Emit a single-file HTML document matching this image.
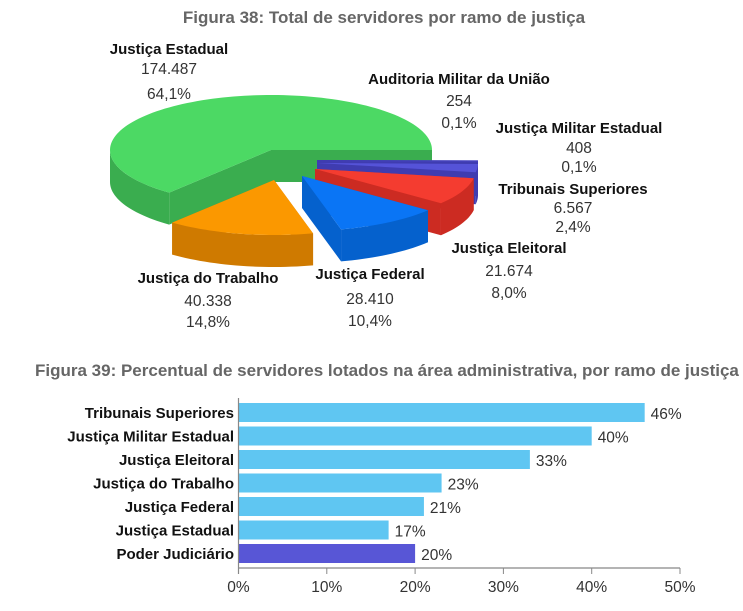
<!DOCTYPE html>
<html><head><meta charset="utf-8"><style>
body{margin:0;background:#fff;width:743px;height:611px;overflow:hidden;font-family:"Liberation Sans",sans-serif}
svg{display:block}
.t{font-weight:bold;fill:#666;font-size:17px}
.b{font-weight:bold;fill:#111;font-size:15px}
.v{fill:#333;font-size:15.5px}
</style></head><body>
<svg id="c" width="743" height="611">
<text class="t" x="384" y="23" text-anchor="middle">Figura 38: Total de servidores por ramo de justiça</text>
<g id="pie"></g>
<g id="pielabels"></g>
<text class="t" x="35" y="376">Figura 39: Percentual de servidores lotados na área administrativa, por ramo de justiça</text>
<g id="bars"></g>
</svg>
<script>
const sliceNames=["Justiça Estadual","Justiça do Trabalho","Justiça Federal","Justiça Eleitoral","Tribunais Superiores","Justiça Militar Estadual","Auditoria Militar da União"];
const sliceCounts=["174.487","40.338","28.410","21.674","6.567","408","254"];
const slicePcts=[64.1,14.8,10.4,8.0,2.4,0.1,0.1];
const barCats=["Tribunais Superiores","Justiça Militar Estadual","Justiça Eleitoral","Justiça do Trabalho","Justiça Federal","Justiça Estadual","Poder Judiciário"];
const barVals=[46,40,33,23,21,17,20];
const xTicks=[0,10,20,30,40,50];

const NS="http://www.w3.org/2000/svg";
function mk(tag,attrs,parent){const e=document.createElementNS(NS,tag);for(const k in attrs)e.setAttribute(k,attrs[k]);parent.appendChild(e);return e;}
const fmt=v=>v.toFixed(1).replace('.',',')+'%';

const pie=document.getElementById('pie');
const cx=271,cy=150,rx=161,ry=55,depth=32;
const topCols=["#4cd964","#fb9800","#0a75f5","#f43c30","#5553d8","#5553d8","#5553d8"];
const sideCols=["#3aad4f","#cf7a00","#0561cd","#cc2b22","#3f3cb0","#3f3cb0","#3f3cb0"];
const offs=[[0,0],[3,30],[31,26],[44,19],[46,13],[46,11],[46,10]];
const ranges=[];let a=360;
for(let i=0;i<slicePcts.length;i++){const s=slicePcts[i]*3.6;ranges.push([a-s,a]);a-=s;}
const P=(t,o,dy)=>[cx+o[0]+rx*Math.cos(t*Math.PI/180),cy+o[1]+(dy||0)+ry*Math.sin(t*Math.PI/180)];
function arcPts(t1,t2,o,dy){const pts=[];const n=Math.max(2,Math.ceil((t2-t1)/2));for(let k=0;k<=n;k++)pts.push(P(t1+(t2-t1)*k/n,o,dy));return pts;}
const order=[0,6,5,4,3,2,1];
for(const i of order){
  const [t1,t2]=ranges[i],o=offs[i];
  const g=mk('g',{},pie);
  
  
  const c=[cx+o[0],cy+o[1]];
  for(const t of [t1,t2]){const p=P(t,o);
    mk('polygon',{points:[c,p,[p[0],p[1]+depth],[c[0],c[1]+depth]].map(q=>q.join(',')).join(' '),fill:sideCols[i]},g);}
  const segs=[[t1,t2],[t1-360,t2-360]];
  for(const [s,e] of segs){const lo=Math.max(s,0),hi=Math.min(e,180);if(hi>lo){
    const top=arcPts(lo,hi,o,0),bot=arcPts(lo,hi,o,depth).reverse();
    mk('polygon',{points:top.concat(bot).map(q=>q.join(',')).join(' '),fill:sideCols[i]},g);}}
  const pts=[c].concat(arcPts(t1,t2,o,0));
  mk('polygon',{points:pts.map(q=>q.join(',')).join(' '),fill:topCols[i]},g);
}
const pl=document.getElementById('pielabels');
const lpos=[[169,54,74,99],[208,283,306,327],[370,279,304,326],[509,253,276,298],[573,194,213,232],[579,133,153,172],[459,84,106,128]];
for(let i=0;i<sliceNames.length;i++){const [x,y1,y2,y3]=lpos[i];
  const n=mk('text',{x:x,y:y1,'text-anchor':'middle',class:'b'},pl);n.textContent=sliceNames[i];
  
  const c=mk('text',{x:x,y:y2,'text-anchor':'middle',class:'v'},pl);c.textContent=sliceCounts[i];
  
  const p=mk('text',{x:x,y:y3,'text-anchor':'middle',class:'v'},pl);p.textContent=fmt(slicePcts[i]);
  
}
const bg=document.getElementById('bars');
const x0=238.5,x1=680,xmax=50,y0=403,pitch=23.5,bh=19,axisY=568;
const X=v=>x0+(x1-x0)*v/xmax;
for(let i=0;i<barCats.length;i++){const y=y0+i*pitch;
  const r=mk('rect',{x:x0,y:y,width:X(barVals[i])-x0,height:bh,fill:i==barCats.length-1?'#5856d6':'#5fc6f2'},bg);
  
  const l=mk('text',{x:234,y:y+15,'text-anchor':'end',class:'b'},bg);l.textContent=barCats[i];
  
  const v=mk('text',{x:X(barVals[i])+6,y:y+16,class:'v'},bg);v.textContent=barVals[i]+'%';
  
}
const ax=mk('line',{x1:x0,y1:axisY,x2:x1,y2:axisY,stroke:'#888','stroke-width':1.2},bg);

const ay=mk('line',{x1:x0,y1:398,x2:x0,y2:axisY+6,stroke:'#888','stroke-width':1.2},bg);

for(const t of xTicks){
  const tk=mk('line',{x1:X(t),y1:axisY,x2:X(t),y2:axisY+6,stroke:'#888'},bg);
  
  const tl=mk('text',{x:X(t),y:axisY+24,'text-anchor':'middle',class:'v'},bg);tl.textContent=t+'%';
  
}
</script>
</body></html>
